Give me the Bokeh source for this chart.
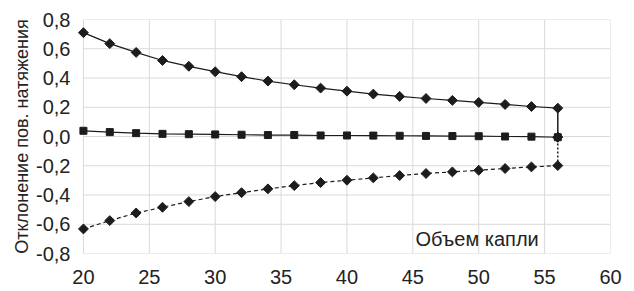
import math
from bokeh.plotting import figure
from bokeh.models import FixedTicker, Label, Title
from bokeh.embed import file_html
from bokeh.resources import INLINE

# Data
volume = [20, 22, 24, 26, 28, 30, 32, 34, 36, 38, 40, 42, 44, 46, 48, 50, 52, 54, 56]
upper = [0.71, 0.635, 0.575, 0.52, 0.48, 0.443, 0.409, 0.379, 0.354, 0.331,
         0.31, 0.29, 0.274, 0.26, 0.247, 0.233, 0.219, 0.205, 0.194]
middle = [0.039, 0.03, 0.023, 0.018, 0.016, 0.014, 0.012, 0.01, 0.01, 0.007,
          0.007, 0.006, 0.005, 0.004, 0.003, 0.002, 0.0, -0.001, -0.005]
lower = [-0.632, -0.575, -0.523, -0.484, -0.445, -0.411, -0.384, -0.358, -0.336, -0.315,
         -0.299, -0.283, -0.267, -0.253, -0.242, -0.231, -0.219, -0.208, -0.199]
# closing point of the envelope lines at the last volume
closing_volume = 56
closing_value = -0.005

x_ticks = [20, 25, 30, 35, 40, 45, 50, 55, 60]
y_ticks = [-0.8, -0.6, -0.4, -0.2, 0.0, 0.2, 0.4, 0.6, 0.8]
y_title = "Отклонение пов. натяжения"
x_title = "Объем капли"

FONT = "Liberation Sans"
INK = "#1c1c1c"
TXT = "#222222"
GRID = "#d9d9d9"

x0, x1 = x_ticks[0], x_ticks[-1]
y0, y1 = y_ticks[0], y_ticks[-1]

p = figure(frame_width=533, frame_height=234, output_backend="svg", toolbar_location=None,
           x_range=(19.55, x1), y_range=(y0, y1),
           min_border_left=77, min_border_right=24, min_border_top=19, min_border_bottom=38)
p.background_fill_color = "white"
p.border_fill_color = "white"
p.outline_line_color = None
p.xgrid.visible = False
p.ygrid.visible = False

# grid lines spanning exactly the tick extent
p.segment(x0=x_ticks, y0=[y0] * len(x_ticks), x1=x_ticks, y1=[y1] * len(x_ticks),
          line_color=GRID, line_width=1)
p.segment(x0=[x0] * len(y_ticks), y0=y_ticks, x1=[x1] * len(y_ticks), y1=y_ticks,
          line_color=GRID, line_width=1)

for ax in (p.xaxis[0], p.yaxis[0]):
    ax.axis_line_color = None
    ax.major_tick_line_color = None
    ax.minor_tick_line_color = None
    ax.major_tick_out = 0
    ax.major_tick_in = 0
    ax.minor_tick_out = 0
    ax.major_label_text_font = FONT
    ax.major_label_text_font_size = "20px"
    ax.major_label_text_color = TXT

p.xaxis[0].ticker = FixedTicker(ticks=x_ticks)
p.yaxis[0].ticker = FixedTicker(ticks=y_ticks)
p.xaxis[0].major_label_overrides = {t: str(t) for t in x_ticks}
p.yaxis[0].major_label_overrides = {t: f"{t:.1f}".replace(".", ",") for t in y_ticks}
p.xaxis[0].major_label_standoff = 16
p.yaxis[0].major_label_standoff = 7

# envelope lines include closing point
up_x = volume + [closing_volume]
up_y = upper + [closing_value]
lo_x = volume + [closing_volume]
lo_y = lower + [closing_value]

p.line(up_x[:-1], up_y[:-1], line_color=INK, line_width=1.2)
p.line(up_x[-2:], up_y[-2:], line_color=INK, line_width=1.5)
p.line(volume, middle, line_color=INK, line_width=1.2)
p.line(lo_x[:-1], lo_y[:-1], line_color=INK, line_width=1.2, line_dash="4 3")
p.line(lo_x[-2:], lo_y[-2:], line_color=INK, line_width=1.5, line_dash="2 2")

p.scatter(volume, middle, marker="square", size=7, fill_color=INK, line_color=INK)
p.scatter(up_x, up_y, marker="square", angle=math.pi / 4, size=7, fill_color=INK, line_color=INK)
p.scatter(lo_x, lo_y, marker="square", angle=math.pi / 4, size=7, fill_color=INK, line_color=INK)

p.add_layout(Label(x=45.2, y=-0.775, text=x_title, text_font=FONT,
                   text_font_size="20px", text_color=TXT,
                   text_baseline="bottom", text_align="left"))

p.add_layout(Title(text=y_title, align="center", offset=24, standoff=4,
                   text_font=FONT, text_font_size="18px", text_font_style="normal",
                   text_color=TXT), "left")

open("out.html", "w").write(file_html(p, INLINE))
